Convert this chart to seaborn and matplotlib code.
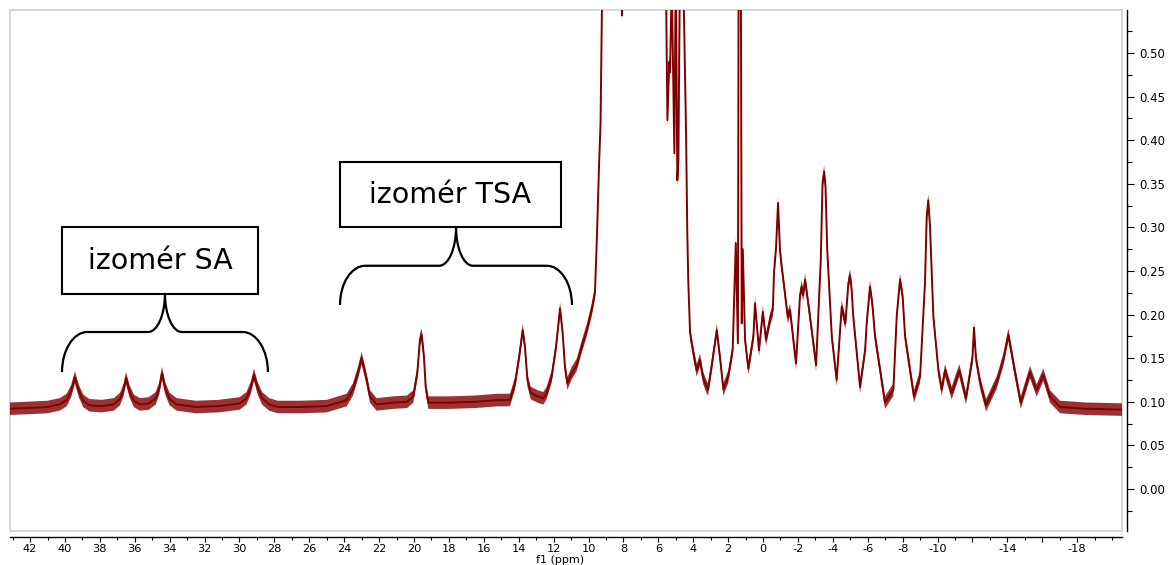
import numpy as np
import pandas as pd
import matplotlib
matplotlib.use("Agg")
import matplotlib.pyplot as plt
import seaborn as sns
from matplotlib.path import Path
from matplotlib.patches import PathPatch, Rectangle

# 1D NMR trace: chemical shift (ppm) and intensity, listed left to right
shift_ppm = [
    43.2, 42.0, 41.0, 40.3, 39.9, 39.65, 39.43, 39.2, 38.95, 38.6, 37.9,
    37.2, 36.85, 36.65, 36.5, 36.3, 36.05, 35.7, 35.2, 34.8, 34.6, 34.44,
    34.25, 34.0, 33.6, 32.5, 31.2, 30.0, 29.6, 29.35, 29.17, 28.95, 28.7,
    28.3, 27.8, 26.5, 25.0, 23.86, 23.5, 23.21, 23.0, 22.75, 22.52, 22.14,
    21.2, 20.4, 20.04, 19.81, 19.66, 19.56, 19.43, 19.33, 19.18, 18.0,
    16.5, 15.2, 14.5, 14.21, 13.97, 13.77, 13.64, 13.5, 13.31, 12.9, 12.59,
    12.4, 12.11, 11.86, 11.63, 11.48, 11.35, 11.21, 10.96, 10.68, 10.39,
    10.1, 9.82, 9.63, 9.51, 9.4, 9.31, 9.23, 9.15, 8.6, 8.3, 8.08, 7.9,
    7.0, 6.0, 5.62, 5.48, 5.37, 5.33, 5.23, 5.08, 5.0, 4.91, 4.85, 4.76,
    4.58, 4.41, 4.34, 4.28, 4.18, 3.99, 3.8, 3.61, 3.44, 3.23, 3.15, 2.95,
    2.65, 2.46, 2.27, 1.99, 1.74, 1.56, 1.44, 1.37, 1.31, 1.22, 1.16, 1.03,
    0.84, 0.55, 0.46, 0.23, 0.01, -0.17, -0.4, -0.56, -0.63, -0.75, -0.86,
    -0.97, -1.07, -1.16, -1.42, -1.55, -1.89, -2.12, -2.22, -2.3, -2.41,
    -2.69, -3.04, -3.31, -3.41, -3.5, -3.58, -3.68, -3.94, -4.22, -4.51,
    -4.72, -4.89, -4.99, -5.08, -5.17, -5.56, -5.85, -5.94, -6.13, -6.26,
    -6.42, -6.99, -7.47, -7.66, -7.85, -8.0, -8.14, -8.65, -9.0, -9.28,
    -9.38, -9.47, -9.57, -9.76, -10.05, -10.24, -10.43, -10.81, -11.25,
    -11.63, -12.0, -12.09, -12.2, -12.44, -12.78, -13.39, -13.77, -14.06,
    -14.44, -14.77, -15.3, -15.68, -16.06, -16.45, -17.02, -18.5, -20.6,
]
intensity = [
    0.092, 0.093, 0.094, 0.097, 0.102, 0.112, 0.128, 0.112, 0.101, 0.096,
    0.095, 0.097, 0.103, 0.113, 0.127, 0.112, 0.101, 0.097, 0.098, 0.104,
    0.115, 0.133, 0.115, 0.103, 0.097, 0.094, 0.095, 0.098, 0.104, 0.116,
    0.131, 0.115, 0.104, 0.097, 0.094, 0.094, 0.095, 0.102, 0.114, 0.133,
    0.150, 0.129, 0.106, 0.097, 0.099, 0.100, 0.106, 0.133, 0.171, 0.177,
    0.152, 0.117, 0.099, 0.099, 0.100, 0.102, 0.102, 0.121, 0.152, 0.182,
    0.163, 0.125, 0.110, 0.106, 0.104, 0.110, 0.129, 0.163, 0.207, 0.179,
    0.140, 0.121, 0.133, 0.142, 0.163, 0.182, 0.205, 0.225, 0.294, 0.369,
    0.420, 0.549, 0.750, 1.200, 0.900, 0.543, 0.900, 1.300, 0.900, 0.700,
    0.423, 0.490, 0.478, 0.580, 0.385, 0.600, 0.354, 0.377, 0.600, 0.600,
    0.408, 0.294, 0.236, 0.179, 0.156, 0.136, 0.148, 0.128, 0.117, 0.114,
    0.140, 0.182, 0.150, 0.114, 0.129, 0.159, 0.282, 0.167, 0.900, 0.900,
    0.190, 0.275, 0.171, 0.138, 0.175, 0.213, 0.159, 0.203, 0.171, 0.194,
    0.205, 0.248, 0.278, 0.328, 0.274, 0.255, 0.240, 0.197, 0.205, 0.144,
    0.222, 0.232, 0.222, 0.240, 0.198, 0.142, 0.263, 0.350, 0.364, 0.347,
    0.274, 0.175, 0.125, 0.209, 0.190, 0.236, 0.245, 0.228, 0.198, 0.117,
    0.159, 0.190, 0.232, 0.213, 0.175, 0.099, 0.114, 0.198, 0.240, 0.221,
    0.175, 0.106, 0.129, 0.236, 0.312, 0.331, 0.301, 0.198, 0.136, 0.114,
    0.136, 0.110, 0.136, 0.104, 0.150, 0.185, 0.150, 0.122, 0.096, 0.122,
    0.148, 0.177, 0.134, 0.099, 0.134, 0.113, 0.131, 0.106, 0.094, 0.092,
    0.091,
]

# axis ticks
x_ticks = [42, 40, 38, 36, 34, 32, 30, 28, 26, 24, 22, 20, 18, 16, 14, 12,
           10, 8, 6, 4, 2, 0, -2, -4, -6, -8, -10, -12, -14, -16, -18]
x_ticklabels = ["42", "40", "38", "36", "34", "32", "30", "28", "26", "24",
                "22", "20", "18", "16", "14", "12", "10", "8", "6", "4", "2",
                "0", "-2", "-4", "-6", "-8", "-10", "", "-14", "", "-18"]
y_ticks = [0.00, 0.05, 0.10, 0.15, 0.20, 0.25, 0.30, 0.35, 0.40, 0.45, 0.50]
y_ticklabels = ["0.00", "0.05", "0.10", "0.15", "0.20", "0.25", "0.30",
                "0.35", "0.40", "0.45", "0.50"]

# isomer group labels with their bracket spans (ppm)
group_labels = ["izomér SA", "izomér TSA"]
group_span_left = [40.17, 24.24]
group_span_right = [28.37, 10.95]
group_tip = [34.27, 17.59]

sns.set_theme(style="white")
plt.rcParams["font.family"] = ["DejaVu Sans"]
plt.rcParams["axes.unicode_minus"] = False

trace_color = "#800000"

fig = plt.figure(figsize=(11.7, 5.65), dpi=100)
ax = fig.add_axes([10 / 1170, 1 - 531 / 565, 1112 / 1170, 521 / 565])

df = pd.DataFrame({"ppm": shift_ppm, "intensity": intensity})
y_arr = np.asarray(intensity)
# noise envelope around the trace
ax.fill_between(shift_ppm, y_arr - 0.0072, y_arr + 0.0072,
                color=trace_color, alpha=0.8, lw=0, zorder=2)
sns.lineplot(data=df, x="ppm", y="intensity", sort=False, estimator=None,
             color=trace_color, lw=1.4, ax=ax, zorder=3)

ax.set_xlim(43.15, -20.57)
ax.set_ylim(-0.0482, 0.5493)

# frame and offset axes
for side in ["top", "left"]:
    ax.spines[side].set_visible(False)
for side in ["right", "bottom"]:
    ax.spines[side].set_visible(True)
    ax.spines[side].set_color("black")
    ax.spines[side].set_linewidth(1.0)
ax.spines["right"].set_position(("outward", 3.6))
ax.spines["bottom"].set_position(("outward", 4.3))
ax.add_patch(Rectangle((0, 0), 1, 1, transform=ax.transAxes, fill=False,
                       edgecolor="#cfcfcf", lw=1.2, clip_on=False, zorder=1))

ax.yaxis.tick_right()
ax.yaxis.set_label_position("right")
ax.set_yticks(y_ticks)
ax.set_yticklabels(y_ticklabels)
ax.set_yticks([0.025 + 0.05 * i for i in range(-1, 11)], minor=True)
ax.set_xticks(x_ticks)
ax.set_xticklabels(x_ticklabels)
ax.set_xticks(list(range(43, -21, -1)), minor=True)
ax.tick_params(axis="y", which="major", direction="out", length=5, width=0.8,
               pad=4, labelsize=8.5, colors="black", right=True, left=False)
ax.tick_params(axis="y", which="minor", direction="out", length=3.5, width=0.8,
               right=True, left=False, colors="black")
ax.tick_params(axis="x", which="major", direction="out", length=3.5, width=0.8,
               pad=1.5, labelsize=8.2, colors="black", bottom=True)
ax.tick_params(axis="x", which="minor", direction="out", length=2.5, width=0.8,
               bottom=True, colors="black")
ax.set_xlabel("")
ax.set_ylabel("")
ax.grid(False)
fig.text(560 / 1170, 1 - 560 / 565, "f1 (ppm)", ha="center", va="center",
         fontsize=8, color="black")

# curly brackets and label boxes
y_end = [0.134, 0.211]
y_bar = [0.180, 0.256]
y_tip = [0.224, 0.300]
box_top = [0.300, 0.375]
corner_dx = 1.45
cusp_dx = 0.97
k = 0.552
for i, label in enumerate(group_labels):
    xl, xr, xt = group_span_left[i], group_span_right[i], group_tip[i]
    ye, yb, yt = y_end[i], y_bar[i], y_tip[i]
    h1 = yb - ye
    h2 = yt - yb
    verts = [
        (xl, ye),
        (xl, ye + k * h1), (xl - (1 - k) * corner_dx, yb), (xl - corner_dx, yb),
        (xt + cusp_dx, yb),
        (xt + (1 - k) * cusp_dx, yb), (xt, yt - k * h2), (xt, yt),
        (xt, yt - k * h2), (xt - (1 - k) * cusp_dx, yb), (xt - cusp_dx, yb),
        (xr + corner_dx, yb),
        (xr + (1 - k) * corner_dx, yb), (xr, ye + k * h1), (xr, ye),
    ]
    codes = [Path.MOVETO,
             Path.CURVE4, Path.CURVE4, Path.CURVE4,
             Path.LINETO,
             Path.CURVE4, Path.CURVE4, Path.CURVE4,
             Path.CURVE4, Path.CURVE4, Path.CURVE4,
             Path.LINETO,
             Path.CURVE4, Path.CURVE4, Path.CURVE4]
    ax.add_patch(PathPatch(Path(verts, codes), fill=False, edgecolor="black",
                           lw=1.6, zorder=4))

box_left = [40.17, 24.24]
box_right = [28.94, 11.58]
for i, label in enumerate(group_labels):
    bl, br = box_left[i], box_right[i]
    bb, bt = y_tip[i], box_top[i]
    ax.add_patch(Rectangle((br, bb), bl - br, bt - bb, facecolor="white",
                           edgecolor="black", lw=1.5, zorder=5))
    ax.text((bl + br) / 2, (bb + bt) / 2, label, ha="center", va="center",
            fontsize=20.5, color="black", zorder=6)

fig.savefig("out.png", dpi=100, facecolor="white")
